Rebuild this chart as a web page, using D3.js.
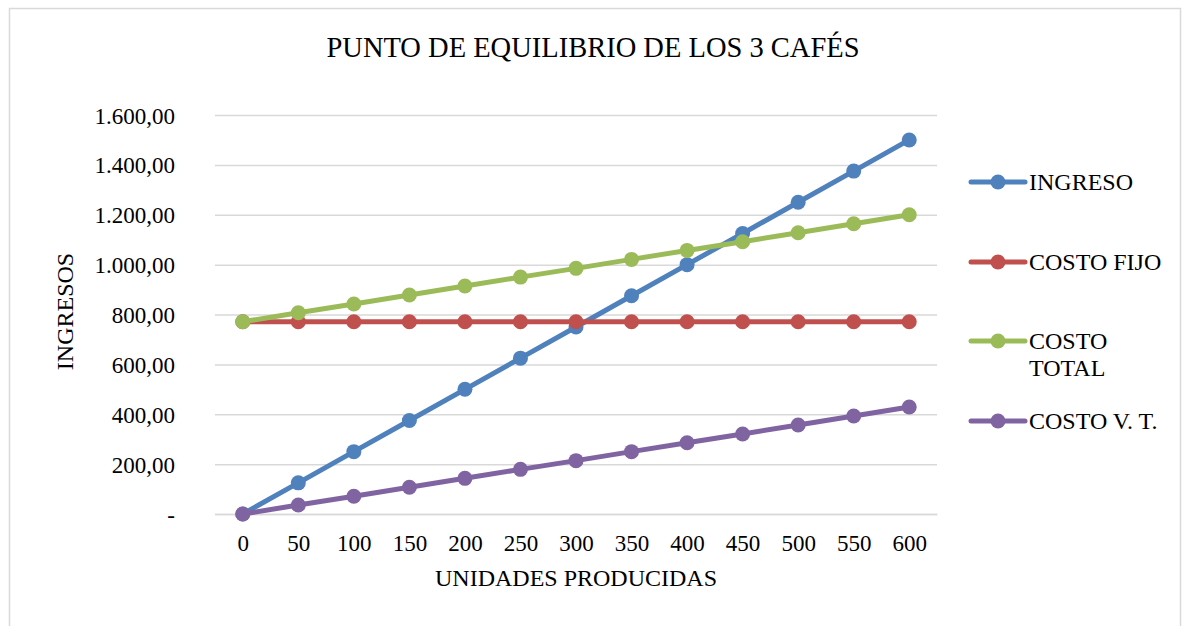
<!DOCTYPE html>
<html>
<head>
<meta charset="utf-8">
<script src="https://cdn.jsdelivr.net/npm/d3@7"></script>
<style>
  body { margin: 0; background: #fff; overflow: hidden; }
  svg { display: block; }
  svg text { font-family: "Liberation Serif", "Times New Roman", serif; fill: #000; }
</style>
</head>
<body>
<svg width="1187" height="626"></svg>
<script>
// ---- Datos
const unidades = [0, 50, 100, 150, 200, 250, 300, 350, 400, 450, 500, 550, 600];
const ingreso = [0, 125, 250, 375, 500, 625, 750, 875, 1000, 1125, 1250, 1375, 1500];
const costoFijo = [771, 771, 771, 771, 771, 771, 771, 771, 771, 771, 771, 771, 771];
const costoTotal = [771, 807, 842, 878, 914, 950, 985, 1021, 1057, 1092, 1128, 1164, 1200];
const costoVT = [0, 36, 71, 107, 143, 179, 214, 250, 286, 321, 357, 393, 429];
const yTicks = [0, 200, 400, 600, 800, 1000, 1200, 1400, 1600];

const series = [
  { nombre: ['INGRESO'], valores: ingreso, color: '#4F81BD' },
  { nombre: ['COSTO FIJO'], valores: costoFijo, color: '#C0504D' },
  { nombre: ['COSTO', 'TOTAL'], valores: costoTotal, color: '#9BBB59' },
  { nombre: ['COSTO V. T.'], valores: costoVT, color: '#8064A2' }
];

const svg = d3.select('svg');
const width = 1187, height = 626;

// marco (el borde inferior queda fuera de la imagen)
svg.append('path')
  .attr('d', `M9.5,${height} V8.5 H1180.5 V${height}`)
  .attr('fill', 'none')
  .attr('stroke', '#d9d9d9')
  .attr('stroke-width', 1.5);

const margens = { left: 215, right: 250, top: 115, bottom: 112 };
const innerWidth = width - margens.left - margens.right;
const innerHeight = height - margens.top - margens.bottom;

// ---- Escalas
const mapX = d3.scalePoint()
  .domain(unidades.map(String))
  .range([0, innerWidth])
  .padding(0.5);

const mapY = d3.scaleLinear()
  .domain([0, 1600])
  .range([innerHeight, 0]);

const g = svg.append('g')
  .attr('transform', `translate(${margens.left}, ${margens.top})`);

// ---- Rejilla / eje Y
const fmt = d => d === 0 ? '-' : d3.formatLocale({ decimal: ',', thousands: '.', grouping: [3] }).format(',.2f')(d);

const eixoY = d3.axisLeft(mapY)
  .tickValues(yTicks)
  .tickSize(-innerWidth)
  .tickPadding(40)
  .tickFormat(fmt);

g.append('g')
  .attr('class', 'eixo-y')
  .call(eixoY)
  .attr('font-family', null)
  .attr('font-size', null)
  .call(s => s.select('.domain').remove())
  .call(s => s.selectAll('line').attr('stroke', '#d9d9d9').attr('stroke-width', 1.5))
  .call(s => s.selectAll('text').attr('font-size', 23).attr('dy', null).attr('y', 8));

// ---- Eje X
const eixoX = d3.axisBottom(mapX).tickSize(0).tickPadding(20);
g.append('g')
  .attr('class', 'eixo-x')
  .attr('transform', `translate(0, ${innerHeight})`)
  .call(eixoX)
  .attr('font-family', null)
  .attr('font-size', null)
  .call(s => s.select('.domain').attr('stroke', '#d9d9d9').attr('stroke-width', 1.5))
  .call(s => s.selectAll('text').attr('font-size', 23).attr('dy', null).attr('y', 37));

// ---- Títulos
svg.append('text')
  .attr('x', 593).attr('y', 57)
  .attr('text-anchor', 'middle')
  .attr('font-size', 28.5)
  .text('PUNTO DE EQUILIBRIO DE LOS 3 CAFÉS');

g.append('text')
  .attr('x', innerWidth / 2)
  .attr('y', innerHeight + 72)
  .attr('text-anchor', 'middle')
  .attr('font-size', 24)
  .text('UNIDADES PRODUCIDAS');

g.append('text')
  .attr('transform', 'rotate(-90)')
  .attr('x', -innerHeight / 2 + 3)
  .attr('y', -142)
  .attr('text-anchor', 'middle')
  .attr('font-size', 24)
  .text('INGRESOS');

// ---- Líneas
const linha = vals => d3.line()
  .x((d, i) => mapX(String(unidades[i])))
  .y(d => mapY(d))(vals);

series.forEach(s => {
  g.append('path')
    .attr('d', linha(s.valores))
    .attr('fill', 'none')
    .attr('stroke', s.color)
    .attr('stroke-width', 5)
    .attr('stroke-linejoin', 'round')
    .attr('stroke-linecap', 'round');

  g.selectAll(null)
    .data(s.valores)
    .enter()
    .append('circle')
    .attr('cx', (d, i) => mapX(String(unidades[i])))
    .attr('cy', d => mapY(d))
    .attr('r', 7.5)
    .attr('fill', s.color);
});

// ---- Leyenda
const legendY = [182, 262, 341, 421];
series.forEach((s, i) => {
  const lg = svg.append('g').attr('transform', `translate(971, ${legendY[i]})`);
  lg.append('line')
    .attr('x1', 0).attr('x2', 54)
    .attr('stroke', s.color)
    .attr('stroke-width', 5)
    .attr('stroke-linecap', 'round');
  lg.append('circle').attr('cx', 27).attr('r', 7.5).attr('fill', s.color);
  s.nombre.forEach((t, j) => {
    lg.append('text')
      .attr('x', 58)
      .attr('y', 8 + j * 27)
      .attr('font-size', 24)
      .text(t);
  });
});
</script>
</body>
</html>
